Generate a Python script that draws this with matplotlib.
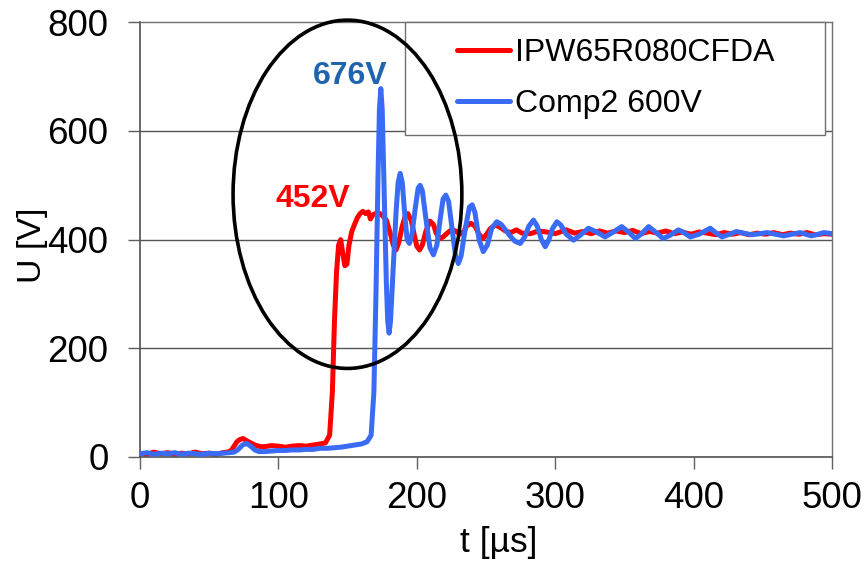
import matplotlib
matplotlib.use("Agg")
import matplotlib.pyplot as plt
from matplotlib.patches import Ellipse, Rectangle

plt.rcParams['font.family'] = ['Liberation Sans', 'DejaVu Sans']

# ---- data ----
red_t = [0, 5, 10, 15, 20, 25, 30, 35, 40, 45, 50, 55, 60, 63, 66, 68, 70, 72, 74.5, 77, 80, 83, 87, 90,
         95, 100, 105, 110, 115, 120, 125, 130, 134, 137, 139, 140.5, 142, 143.5, 145, 146.5, 148, 149.5,
         151, 153, 155, 157, 159, 161, 163, 165, 166.5, 168, 170, 173.5, 176, 178, 181, 183, 185, 187,
         189.5, 191.5, 193.5, 196, 198.5, 200, 202, 204, 206.5, 209.5, 212, 214, 216.5, 219, 222, 225,
         228, 231, 234, 236, 239, 242, 245, 247.7, 250, 253, 256.6, 260, 264, 268, 272, 276, 282, 288,
         294, 300, 308, 314, 320, 326, 332, 338, 344, 350, 356, 362, 368, 374, 380, 386, 392, 398, 404,
         410, 416, 422, 428, 434, 440, 446, 452, 458, 464, 470, 476, 482, 488, 494, 500]
red_v = [7, 5, 9, 6, 8, 5, 7, 6, 9, 6, 7, 5, 8, 9, 12, 20, 28, 32, 34, 30, 26, 22, 19, 19,
         21, 20, 18, 20, 21, 20, 22, 24, 26, 40, 120, 250, 340, 390, 400, 375, 352, 355,
         390, 415, 428, 440, 448, 452, 448, 451, 438, 445, 448, 448, 442, 436, 410, 390, 381, 395,
         425, 442, 448, 435, 405, 388, 381, 390, 415, 434, 428, 412, 402, 405, 412, 418,
         416, 410, 415, 425, 430, 425, 410, 402, 408, 420, 427, 423, 416, 413, 418, 412, 411, 416,
         414, 411, 418, 412, 415, 411, 416, 412, 416, 413, 417, 411, 415, 412, 416, 411, 414, 410, 414,
         412, 409, 413, 410, 413, 409, 412, 410, 413, 409, 412, 410, 413, 409, 411, 410]

blue_t = [0, 5, 10, 15, 20, 25, 30, 35, 40, 45, 50, 55, 60, 65, 68, 71, 74, 77, 80, 83, 86, 90, 95,
          100, 105, 110, 115, 120, 125, 130, 135, 140, 145, 150, 155, 160, 164, 167, 169, 170.5, 172,
          173, 174, 175, 176.5, 178, 179, 180, 181, 183, 185, 186.5, 188, 189.5, 191.5, 193, 194.7,
          196.5, 199, 201, 202.4, 204, 207, 209.5, 212, 214.5, 217, 219, 221, 223, 225.5, 228, 230,
          232, 235, 238, 240, 242, 245, 248, 251, 254, 257.8, 261, 264, 268, 271, 274.7, 278, 281,
          284.3, 287, 290, 292.8, 295.5, 298, 301.2, 304, 308, 313.2, 318, 324, 330, 336, 342, 348,
          353, 358, 362, 367.5, 372, 378, 383, 389, 393, 397.6, 404, 412, 416, 420.5, 426, 431, 436,
          442, 448, 453, 459, 465, 471, 477, 481, 485, 490, 494, 500]
blue_v = [6, 8, 5, 7, 6, 8, 5, 7, 6, 5, 7, 6, 7, 8, 9, 14, 22, 25, 20, 13, 10, 10, 11,
          12, 12, 13, 13, 14, 14, 16, 16, 17, 18, 20, 22, 24, 28, 40, 120, 300, 520,
          640, 678, 640, 480, 320, 250, 228, 250, 350, 450, 505, 522, 505, 440, 400, 393,
          410, 460, 495, 500, 490, 430, 385, 372, 390, 440, 475, 482, 470, 420, 370, 356,
          370, 420, 460, 464, 450, 400, 378, 390, 420, 433, 428, 418, 405, 397, 393, 405, 425,
          436, 425, 400, 387, 400, 420, 433, 427, 410, 399, 408, 421, 414, 405, 414, 424,
          414, 402, 410, 424, 415, 402, 408, 418, 413, 405, 410, 421, 413, 405, 410, 415, 412,
          409, 411, 413, 410, 407, 410, 413, 410, 407, 410, 413, 411]

series_names = ["IPW65R080CFDA", "Comp2 600V"]
x_ticks = [0, 100, 200, 300, 400, 500]
y_ticks = [0, 200, 400, 600, 800]

# ---- figure ----
fig = plt.figure(figsize=(8.66, 5.64), dpi=100)
ax = fig.add_axes([140/866, 1-457/564, 692/866, 434.7/564])
ax.set_xlim(0, 500)
ax.set_ylim(0, 800)

for yv in y_ticks[1:-1]:
    ax.axhline(yv, color='#555555', lw=1.0, zorder=1)

l1, = ax.plot(red_t, red_v, color='#FF0000', lw=3.6, zorder=2,
              solid_joinstyle='round', solid_capstyle='round')
l2, = ax.plot(blue_t, blue_v, color='#3A6BF5', lw=3.6, zorder=3,
              solid_joinstyle='round', solid_capstyle='round')

for s in ['top', 'right']:
    ax.spines[s].set_color('#707070')
    ax.spines[s].set_linewidth(1.0)
for s in ['left', 'bottom']:
    ax.spines[s].set_color('#505050')
    ax.spines[s].set_linewidth(1.2)

ax.set_xticks(x_ticks)
ax.set_yticks(y_ticks)
ax.tick_params(axis='both', direction='out', length=8.6, width=1.0, color='#606060', labelsize=26.5)
ax.tick_params(axis='y', pad=14)
ax.tick_params(axis='x', pad=8.5)

ax.set_xlabel("t [µs]", fontsize=25.5)
ax.xaxis.set_label_coords(0.519, -0.158)
ax.set_ylabel("U [V]", fontsize=24.5)
ax.yaxis.set_label_coords(-0.133, 0.4865)

# annotations
ax.text(152, 687, "676V", color='#1F64AD', fontsize=23, fontweight='bold', ha='center', va='baseline', zorder=7)
ax.text(124.7, 460, "452V", color='#FF0000', fontsize=23, fontweight='bold', ha='center', va='baseline', zorder=7)

# legend box
rect = Rectangle((0.383, 0.7407), 0.607, 0.2607, transform=ax.transAxes, facecolor='white',
                 edgecolor='#707070', lw=1.0, zorder=4, clip_on=False)
ax.add_patch(rect)
leg = fig.legend([l1, l2], series_names, loc='center left', bbox_to_anchor=(457/866, 1-78.5/564),
                 frameon=False, fontsize=23, borderpad=0, borderaxespad=0, handlelength=1.66,
                 handletextpad=0.16, labelspacing=0.67)
leg.set_zorder(5)

# ellipse
ell = Ellipse((149.9, 483.5), 165.3, 641, facecolor='none', edgecolor='black', lw=2.6, zorder=6, clip_on=False)
ax.add_patch(ell)

fig.savefig("out.png", dpi=100)
